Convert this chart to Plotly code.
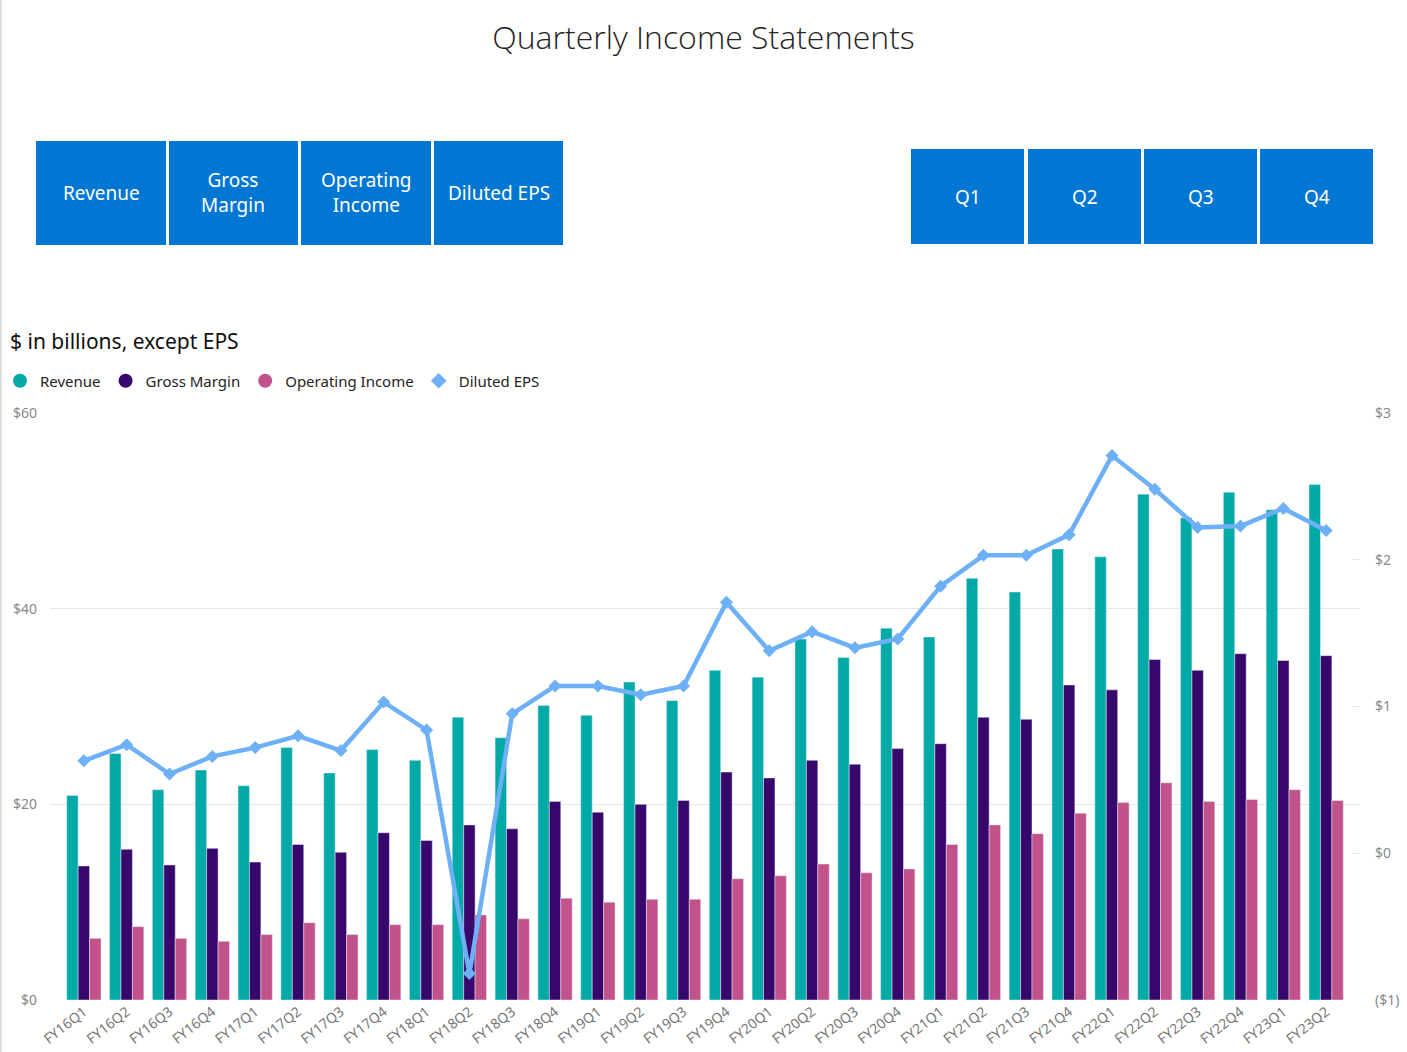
import plotly.graph_objects as go

quarters = ["FY16Q1", "FY16Q2", "FY16Q3", "FY16Q4", "FY17Q1", "FY17Q2", "FY17Q3", "FY17Q4",
            "FY18Q1", "FY18Q2", "FY18Q3", "FY18Q4", "FY19Q1", "FY19Q2", "FY19Q3", "FY19Q4",
            "FY20Q1", "FY20Q2", "FY20Q3", "FY20Q4", "FY21Q1", "FY21Q2", "FY21Q3", "FY21Q4",
            "FY22Q1", "FY22Q2", "FY22Q3", "FY22Q4", "FY23Q1", "FY23Q2"]

revenue = [20.9, 25.2, 21.5, 23.5, 21.9, 25.8, 23.2, 25.6, 24.5, 28.9, 26.8, 30.1, 29.1, 32.5, 30.6,
           33.7, 33.0, 36.9, 35.0, 38.0, 37.1, 43.1, 41.7, 46.1, 45.3, 51.7, 49.3, 51.9, 50.1, 52.7]
gross_margin = [13.7, 15.4, 13.8, 15.5, 14.1, 15.9, 15.1, 17.1, 16.3, 17.9, 17.5, 20.3, 19.2, 20.0, 20.4,
                23.3, 22.7, 24.5, 24.1, 25.7, 26.2, 28.9, 28.7, 32.2, 31.7, 34.8, 33.7, 35.4, 34.7, 35.2]
operating_income = [6.3, 7.5, 6.3, 6.0, 6.7, 7.9, 6.7, 7.7, 7.7, 8.7, 8.3, 10.4, 10.0, 10.3, 10.3,
                    12.4, 12.7, 13.9, 13.0, 13.4, 15.9, 17.9, 17.0, 19.1, 20.2, 22.2, 20.3, 20.5, 21.5, 20.4]
diluted_eps = [0.63, 0.74, 0.54, 0.66, 0.72, 0.80, 0.70, 1.03, 0.84, -0.82, 0.95, 1.14, 1.14, 1.08, 1.14,
               1.71, 1.38, 1.51, 1.40, 1.46, 1.82, 2.03, 2.03, 2.17, 2.71, 2.48, 2.22, 2.23, 2.35, 2.20]

left_tick_vals = [0, 20, 40, 60]
left_tick_text = ["$0", "$20", "$40", "$60"]
right_tick_vals = [-1, 0, 1, 2, 3]
right_tick_text = ["($1)", "$0", "$1", "$2", "$3"]

metric_buttons = ["Revenue", "Gross<br>Margin", "Operating<br>Income", "Diluted EPS"]
quarter_buttons = ["Q1", "Q2", "Q3", "Q4"]

C_REV = "#01A9A7"
C_GM = "#37076B"
C_OI = "#C2528A"
C_EPS = "#6DB0F6"
BTN = "#0176D3"
FONT = "Segoe UI, Noto Sans, Open Sans, sans-serif"

W, H = 1407, 1052
L, R, T, B = 50, 1360, 413, 1000


def px(x):
    return (x - L) / (R - L)


def py(y):
    return (B - y) / (B - T)


fig = go.Figure()
fig.add_trace(go.Bar(x=quarters, y=revenue, name="Revenue", marker_color=C_REV, showlegend=False))
fig.add_trace(go.Bar(x=quarters, y=gross_margin, name="Gross Margin", marker_color=C_GM, showlegend=False))
fig.add_trace(go.Bar(x=quarters, y=operating_income, name="Operating Income", marker_color=C_OI, showlegend=False))
fig.add_trace(go.Scatter(x=quarters, y=diluted_eps, name="Diluted EPS", yaxis="y2", mode="lines+markers",
                         line=dict(color=C_EPS, width=4.5),
                         marker=dict(symbol="diamond", size=10, color=C_EPS), showlegend=False))

# legend entries
for nm, col, sym in [("Revenue", C_REV, "circle"), ("Gross Margin", C_GM, "circle"),
                     ("Operating Income", C_OI, "circle"), ("Diluted EPS", C_EPS, "diamond")]:
    fig.add_trace(go.Scatter(x=[None], y=[None], mode="markers", name=nm,
                             marker=dict(symbol=sym, size=14 if sym == "circle" else 12, color=col)))

shapes = []
annotations = []

# left border
shapes.append(dict(type="line", xref="paper", yref="paper", x0=px(1), x1=px(1), y0=py(0), y1=py(H),
                   line=dict(color="#D6D6D6", width=1.5)))

left_boxes = [(36, 166), (169, 298), (301, 431), (434, 563)]
for (x0, x1), lab in zip(left_boxes, metric_buttons):
    shapes.append(dict(type="rect", xref="paper", yref="paper", x0=px(x0), x1=px(x1), y0=py(245), y1=py(141),
                       fillcolor=BTN, line=dict(width=0), layer="above"))
    annotations.append(dict(xref="paper", yref="paper", x=px((x0 + x1) / 2), y=py(193), text=lab,
                            showarrow=False, xanchor="center", yanchor="middle",
                            font=dict(family=FONT, size=19, color="white")))

right_boxes = [(911, 1024), (1028, 1141), (1144, 1257), (1260, 1373)]
for (x0, x1), lab in zip(right_boxes, quarter_buttons):
    shapes.append(dict(type="rect", xref="paper", yref="paper", x0=px(x0), x1=px(x1), y0=py(244), y1=py(149),
                       fillcolor=BTN, line=dict(width=0), layer="above"))
    annotations.append(dict(xref="paper", yref="paper", x=px((x0 + x1) / 2), y=py(197), text=lab,
                            showarrow=False, xanchor="center", yanchor="middle",
                            font=dict(family=FONT, size=19, color="white")))

annotations.append(dict(xref="paper", yref="paper", x=px(8), y=py(341), text="$ in billions, except EPS",
                        showarrow=False, xanchor="left", yanchor="middle",
                        font=dict(family=FONT, size=21, color="#111111")))

fig.update_layout(
    width=W, height=H,
    margin=dict(l=L, r=W - R, t=T, b=H - B, pad=0, autoexpand=False),
    paper_bgcolor="white", plot_bgcolor="white",
    font=dict(family=FONT),
    title=dict(text="Quarterly Income Statements", x=0.5, xref="container", xanchor="center",
               y=(H - 38) / H, yref="container", yanchor="middle", automargin=False,
               font=dict(family="Segoe UI Light, Open Sans, sans-serif", size=32, color="#252423", weight=300)),
    barmode="group", bargap=0.2, bargroupgap=0,
    xaxis=dict(type="category", range=[-0.79, 29.79], tickangle=-38, showgrid=False, showline=False,
               ticks="", automargin=False, tickfont=dict(family=FONT, size=14, color="#777777")),
    yaxis=dict(range=[0, 60], tickvals=left_tick_vals, ticktext=left_tick_text, showgrid=True,
               gridcolor="#E6E6E6", gridwidth=1, zeroline=False, showline=False, ticks="", automargin=False,
               ticklabelstandoff=12, tickfont=dict(family=FONT, size=14, color="#888888")),
    yaxis2=dict(range=[-1, 3], overlaying="y", side="right", tickvals=right_tick_vals,
                ticktext=right_tick_text, showgrid=False, zeroline=False, showline=False,
                ticks="inside", ticklen=8, tickcolor="#E6E6E6", automargin=False,
                ticklabelstandoff=14, tickfont=dict(family=FONT, size=14, color="#888888")),
    legend=dict(orientation="h", xref="container", yref="container", x=0.0, xanchor="left",
                y=(H - 381) / H, yanchor="middle", font=dict(family=FONT, size=15, color="#252423"),
                itemwidth=30, tracegroupgap=0, bgcolor="rgba(0,0,0,0)"),
    shapes=shapes,
    annotations=annotations,
)

fig.write_html("out.html", config={"displayModeBar": False},
               post_script="document.body.style.margin='0';")
